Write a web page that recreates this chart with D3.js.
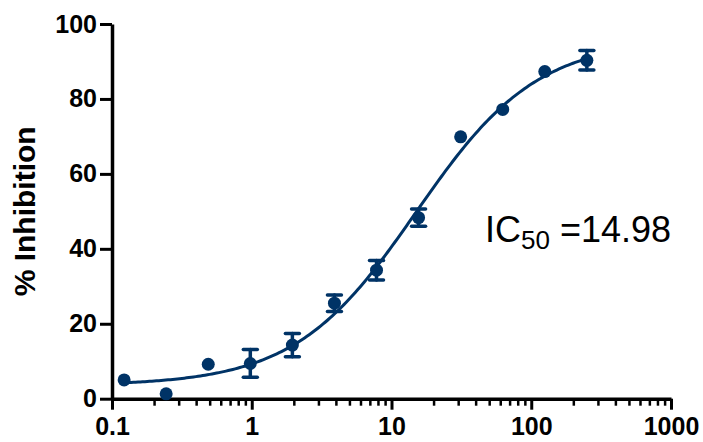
<!DOCTYPE html>
<html><head><meta charset="utf-8">
<script src="https://cdn.jsdelivr.net/npm/d3@7"></script>
<style>
html,body{margin:0;padding:0;background:#fff;}
svg{display:block;}
text{font-family:"Liberation Sans",Arial,sans-serif;}
</style></head>
<body><svg id="c" width="703" height="442"></svg>
<script>
// Data
const concentrations = [0.1221, 0.2441, 0.4883, 0.9766, 1.953, 3.906, 7.8125, 15.625, 31.25, 62.5, 125, 250];
const inhibition     = [5.0, 1.3, 9.2, 9.4, 14.3, 25.5, 34.3, 48.3, 69.9, 77.2, 87.3, 90.3];
const errors         = [0, 0, 0, 3.7, 3.1, 2.2, 2.6, 2.3, 0, 0, 0, 2.6];
const xTickLabels = [0.1, 1, 10, 100, 1000];
const yTickLabels = [0, 20, 40, 60, 80, 100];
// 4PL fit parameters [bottom, top, IC50, hill]
const fitParams = [3.5, 96, 14.98, 1.0];
const ic50Label = ["IC", "50", " =14.98"];

const color = "#003366";
const svg = d3.select("#c");
const x = d3.scaleLog().domain([0.1, 1000]).range([112, 671]);
const y = d3.scaleLinear().domain([0, 100]).range([398.7, 24]);

// minor ticks
const minor = [];
for (let d = 0.1; d < 1000; d *= 10) for (let k = 2; k <= 9; k++) minor.push(d * k);

const gxMinor = svg.append("g").attr("transform", `translate(0,${y(0)})`)
  .call(d3.axisBottom(x).tickValues(minor).tickSize(7).tickSizeOuter(0).tickFormat(""));
gxMinor.select(".domain").remove();
gxMinor.selectAll("line").attr("stroke", "#000").attr("stroke-width", 2.5);

const gx = svg.append("g").attr("transform", `translate(0,${y(0)})`)
  .call(d3.axisBottom(x).tickValues(xTickLabels).tickSize(11).tickSizeOuter(0).tickPadding(8)
    .tickFormat(d => String(d)));
gx.select(".domain").attr("stroke", "#000").attr("stroke-width", 3.5);
gx.selectAll("line").attr("stroke", "#000").attr("stroke-width", 3);
gx.selectAll("text").attr("font-size", 25).attr("font-weight", "bold").attr("fill", "#000");

const gy = svg.append("g").attr("transform", `translate(${x(0.1)},0)`)
  .call(d3.axisLeft(y).tickValues(yTickLabels).tickSize(12).tickSizeOuter(0).tickPadding(3));
gy.select(".domain").attr("stroke", "#000").attr("stroke-width", 3.5);
gy.selectAll("line").attr("stroke", "#000").attr("stroke-width", 3);
gy.selectAll("text").attr("font-size", 25).attr("font-weight", "bold").attr("fill", "#000");

// y title
svg.append("text")
  .attr("transform", `translate(35,${(y(0)+y(100))/2}) rotate(-90)`)
  .attr("text-anchor", "middle")
  .attr("font-size", 30).attr("font-weight", "bold").attr("fill", "#000")
  .text("% Inhibition");

// fit curve
const [fBottom, fTop, fIc50, fHill] = fitParams;
const model = c => fBottom + (fTop - fBottom) / (1 + Math.pow(fIc50 / c, fHill));
const lx0 = Math.log10(concentrations[0]), lx1 = Math.log10(concentrations[concentrations.length - 1]);
const curvePts = d3.range(0, 201).map(i => Math.pow(10, lx0 + (lx1 - lx0) * i / 200));
svg.append("path")
  .attr("d", d3.line().x(c => x(c)).y(c => y(model(c)))(curvePts))
  .attr("fill", "none").attr("stroke", color).attr("stroke-width", 3);

// error bars
const pts = concentrations.map((c, i) => ({c, v: inhibition[i], e: errors[i]}));
const eb = svg.append("g").attr("stroke", color).attr("stroke-width", 3.5).attr("stroke-linecap", "round");
pts.filter(d => d.e > 0).forEach(d => {
  const cx = x(d.c);
  eb.append("line").attr("x1", cx).attr("x2", cx).attr("y1", y(d.v + d.e)).attr("y2", y(d.v - d.e));
  eb.append("line").attr("x1", cx - 7).attr("x2", cx + 7).attr("y1", y(d.v + d.e)).attr("y2", y(d.v + d.e));
  eb.append("line").attr("x1", cx - 7).attr("x2", cx + 7).attr("y1", y(d.v - d.e)).attr("y2", y(d.v - d.e));
});

// points
svg.append("g").selectAll("circle").data(pts).join("circle")
  .attr("cx", d => x(d.c)).attr("cy", d => y(d.v)).attr("r", 6.5).attr("fill", color);

// IC50 label
const t = svg.append("text").attr("x", 485).attr("y", 242).attr("font-size", 36).attr("fill", "#000");
t.append("tspan").text(ic50Label[0]);
t.append("tspan").attr("font-size", 26).attr("dy", 7).text(ic50Label[1]);
t.append("tspan").attr("dy", -7).text(ic50Label[2]);
</script></body></html>
